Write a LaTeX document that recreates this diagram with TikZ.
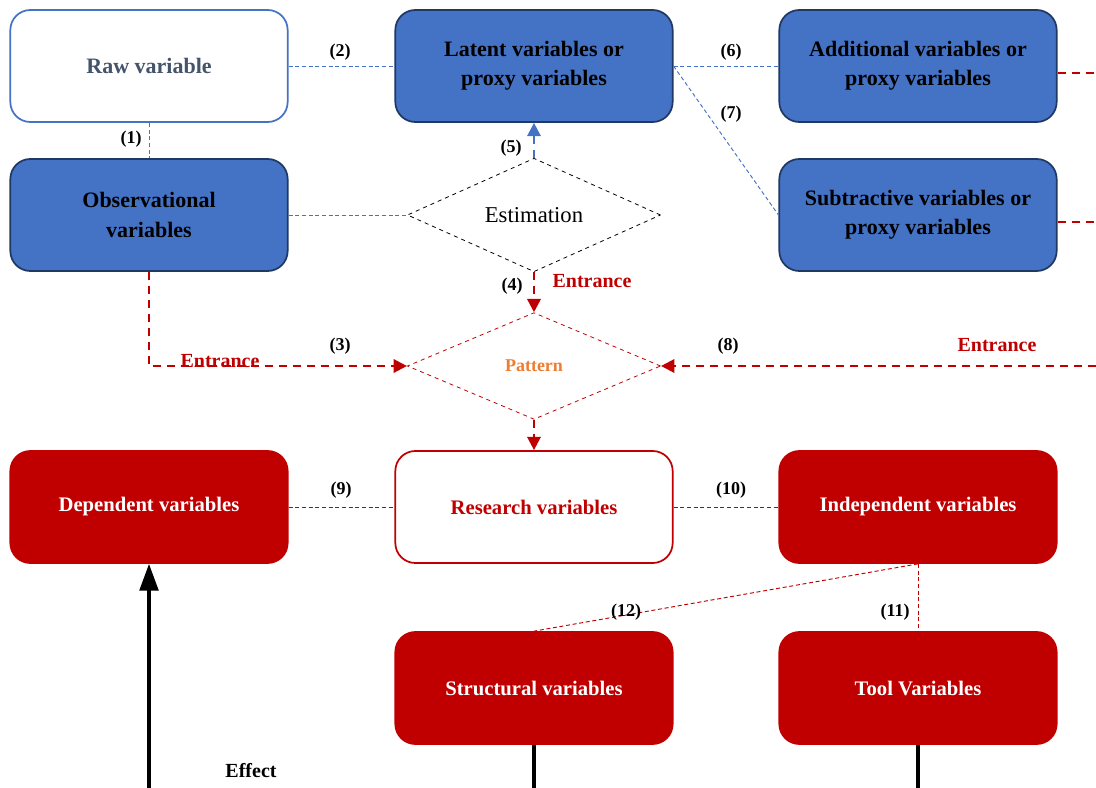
\documentclass[tikz,border=0pt]{standalone}
\usepackage{fontspec}
\setmainfont{Liberation Serif}
\usetikzlibrary{shapes.geometric,arrows.meta}
\definecolor{boxblue}{HTML}{4472C4}
\definecolor{edgeblue}{HTML}{203864}
\definecolor{rawgray}{HTML}{44546A}
\definecolor{darkred}{HTML}{C00000}
\definecolor{patorange}{HTML}{ED7D31}
\tikzset{
	varbox/.style={rectangle, rounded corners=15pt, minimum width=208pt, minimum height=84pt, align=center, line width=1.3pt, font=\fontsize{16.5}{22}\selectfont\bfseries},
	bluebox/.style={varbox, fill=boxblue, draw=edgeblue, text=black},
	rawbox/.style={varbox, fill=white, draw=boxblue, text=rawgray},
	redbox/.style={varbox, fill=darkred, draw=darkred, text=white, font=\fontsize{15.5}{19}\selectfont\bfseries},
	resbox/.style={varbox, fill=white, draw=darkred, text=darkred, font=\fontsize{15.5}{19}\selectfont\bfseries},
	choice/.style={diamond, minimum width=190pt, minimum height=80pt, inner sep=0pt, dashed, line width=0.6pt},
	numlabel/.style={font=\fontsize{13.5}{15}\selectfont\bfseries, text=black},
	entlabel/.style={font=\fontsize{15}{17}\selectfont\bfseries, text=darkred},
	bluelink/.style={draw=boxblue, line width=0.7pt, dash pattern=on 3pt off 2pt},
	redlink/.style={draw=darkred, line width=0.7pt, dash pattern=on 3pt off 2pt},
	entlink/.style={draw=darkred, line width=1.8pt, dash pattern=on 6pt off 4.5pt, -{Triangle[length=10pt, width=10pt]}},
	solidlink/.style={draw=black, line width=2.4pt}
}
\begin{document}
\begin{tikzpicture}[x=0.75pt, y=-0.75pt]
		%%%%% START %%%%%
		\useasboundingbox (0, 0) rectangle (1096, 788);
		
		% top row
		\node[rawbox] (raw) at (149, 66) {Raw variable};
		\node[bluebox] (latent) at (534, 66) {Latent variables or\\proxy variables};
		\node[bluebox] (addvar) at (918, 66) {Additional variables or\\proxy variables};
		
		% second row
		\node[bluebox] (obs) at (149, 215) {Observational\\variables};
		\node[choice, draw=black] (estim) at (534, 215) {\fontsize{17}{20}\selectfont Estimation};
		\node[bluebox] (subvar) at (918, 215) {Subtractive variables or\\proxy variables};
		
		\node[choice, draw=darkred] (pattern) at (534, 366) {\fontsize{13.5}{15}\selectfont\bfseries\color{patorange}Pattern};
		
		% red boxes
		\node[redbox] (dep) at (149, 507) {Dependent variables};
		\node[resbox] (research) at (534, 507) {Research variables};
		\node[redbox] (indep) at (918, 507) {Independent variables};
		\node[redbox] (struct) at (534, 688) {Structural variables};
		\node[redbox] (tool) at (918, 688) {Tool Variables};
		
		\coordinate (addout) at (1096, 73);
		\coordinate (subout) at (1096, 222);
		\coordinate (rightin) at (1096, 366);
		\coordinate (effectin) at (149, 788);
		\coordinate (structout) at (534, 788);
		\coordinate (toolout) at (918, 788);
		
		% blue links
		\draw[bluelink] (raw) -- (obs);
		\draw[bluelink] (raw) -- (latent);
		\draw[bluelink] (obs) -- (estim);
		\draw[bluelink] (latent.east) -- (addvar.west);
		\draw[bluelink] (latent.east) -- (subvar.west);
		\draw[draw=boxblue, line width=1.8pt, dash pattern=on 6pt off 4.5pt, -{Triangle[length=10pt, width=10pt]}] (estim.north) -- (latent.south);
		
		% entrance arrows
		\draw[entlink] (estim.south) -- (pattern.north);
		\draw[entlink] (obs.south) |- (pattern.west);
		\draw[entlink] (rightin) -- (pattern.east);
		\draw[entlink] (pattern.south) -- (research.north);
		\draw[entlink, -] (addvar.east |- addout) -- (addout);
		\draw[entlink, -] (subvar.east |- subout) -- (subout);
		
		% red links
		\draw[redlink] (dep) -- (research);
		\draw[redlink] (research) -- (indep);
		\draw[redlink] (indep.south) -- (tool.north);
		\draw[redlink] (indep.south) -- (struct.north);
		
		% black lines
		\draw[solidlink, -{Triangle[length=20pt, width=14pt]}] (effectin) -- (dep.south);
		\draw[solidlink] (struct.south) -- (structout);
		\draw[solidlink] (tool.south) -- (toolout);
		
		% labels
		\node[numlabel] (n1) at (131, 139) {(1)};
		\node[numlabel] (n2) at (340, 52) {(2)};
		\node[numlabel] (n3) at (340, 346) {(3)};
		\node[numlabel] (n4) at (512, 286) {(4)};
		\node[numlabel] (n5) at (511, 148) {(5)};
		\node[numlabel] (n6) at (731, 52) {(6)};
		\node[numlabel] (n7) at (731, 114) {(7)};
		\node[numlabel] (n8) at (728, 346) {(8)};
		\node[numlabel] (n9) at (341, 490) {(9)};
		\node[numlabel] (n10) at (731, 490) {(10)};
		\node[numlabel] (n11) at (895, 612) {(11)};
		\node[numlabel] (n12) at (626, 612) {(12)};
		
		\node[entlabel] (ent1) at (220, 361) {Entrance};
		\node[entlabel] (ent2) at (592, 281) {Entrance};
		\node[entlabel] (ent3) at (997, 345) {Entrance};
		\node[font=\fontsize{15}{17}\selectfont\bfseries] (effect) at (251, 771) {Effect};
		
		%%%%% END %%%%%
	\end{tikzpicture}
\end{document}
